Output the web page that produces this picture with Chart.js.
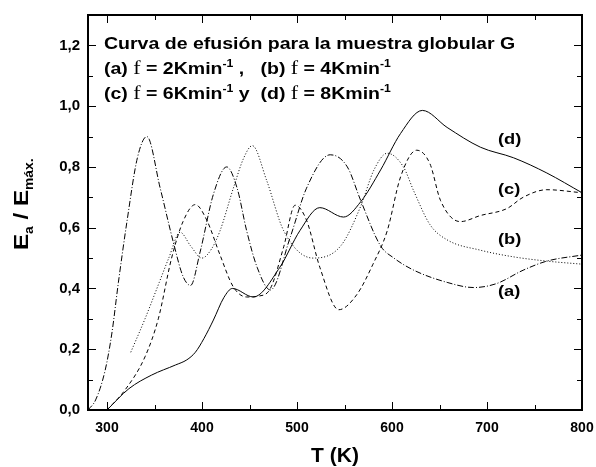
<!DOCTYPE html>
<html>
<head>
<meta charset="utf-8">
<script src="https://cdn.jsdelivr.net/npm/chart.js@4"></script>
<style>
  body { margin: 0; background: #fff; }
  #wrap { width: 596px; height: 467px; position: relative; }
</style>
</head>
<body>
<div id="wrap"><canvas id="myChart"></canvas></div>
<script>
// DATA
const tA = [280, 288, 298, 305, 312, 321, 332, 342, 356, 370, 380, 388, 398, 412, 426, 437, 447, 458, 472, 493, 510, 535, 553, 567, 588, 602, 623, 658, 686, 710, 738, 763, 800];
const yA = [0, 0.033, 0.13, 0.25, 0.42, 0.62, 0.83, 0.90, 0.73, 0.55, 0.44, 0.41, 0.52, 0.71, 0.80, 0.73, 0.59, 0.47, 0.395, 0.57, 0.73, 0.84, 0.80, 0.69, 0.54, 0.50, 0.46, 0.42, 0.403, 0.416, 0.46, 0.49, 0.51];

const tB = [325, 340, 355, 365, 377, 388, 400, 410, 419, 433, 444, 453, 468, 486, 517, 546, 567, 581, 595, 612, 623, 640, 658, 693, 728, 763, 800];
const yB = [0.19, 0.30, 0.42, 0.50, 0.585, 0.54, 0.50, 0.53, 0.59, 0.73, 0.83, 0.87, 0.756, 0.59, 0.50, 0.54, 0.67, 0.79, 0.845, 0.80, 0.72, 0.61, 0.56, 0.526, 0.504, 0.49, 0.48];

const tC = [300, 319, 340, 354, 368, 380, 393, 405, 419, 433, 447, 460, 472, 486, 498, 510, 524, 544, 563, 580, 595, 609, 626, 640, 651, 672, 693, 721, 738, 763, 800];
const yC = [0, 0.066, 0.175, 0.30, 0.50, 0.62, 0.676, 0.625, 0.51, 0.405, 0.372, 0.375, 0.40, 0.537, 0.674, 0.625, 0.47, 0.33, 0.38, 0.48, 0.59, 0.767, 0.855, 0.81, 0.69, 0.62, 0.64, 0.663, 0.70, 0.725, 0.715];

const tD = [300, 323, 347, 372, 384, 393, 402, 412, 423, 432, 454, 482, 503, 524, 549, 567, 588, 609, 632, 658, 693, 728, 763, 800];
const yD = [0, 0.07, 0.115, 0.148, 0.165, 0.19, 0.235, 0.296, 0.37, 0.40, 0.372, 0.47, 0.59, 0.666, 0.635, 0.685, 0.79, 0.91, 0.986, 0.93, 0.865, 0.83, 0.78, 0.715];

const xTicks = [300, 350, 400, 450, 500, 550, 600, 650, 700, 750, 800];
const yTicks = [0, 0.1, 0.2, 0.3, 0.4, 0.5, 0.6, 0.7, 0.8, 0.9, 1.0, 1.1, 1.2];

const curveLabels = ['(a)', '(b)', '(c)', '(d)'];
const curveLabelY = [0.39, 0.56, 0.725, 0.89];

const FONT = 'Arial, "Liberation Sans", sans-serif';
const STRETCH = 1.22; // the original text is a bit wider than plain Arial

// HELPERS
const pts = function (t, y) {
    return t.map((v, i) => ({x: v, y: y[i]}));
};

const series = function (t, y, dash) {
    return {
        data: pts(t, y),
        borderColor: '#000',
        borderWidth: 1,
        borderDash: dash,
        pointRadius: 0,
        fill: false,
        cubicInterpolationMode: 'monotone'
    };
};

// draws a row of text pieces: [text, font, dy], stretched sideways by sx
function drawRuns(ctx, x, y, runs, sx) {
    ctx.save();
    ctx.translate(x, y);
    ctx.scale(sx, 1);
    let cx = 0;
    runs.forEach(function (r) {
        ctx.font = r[1];
        ctx.fillText(r[0], cx, r[2] || 0);
        cx += ctx.measureText(r[0]).width;
    });
    ctx.restore();
}

// frame, inside ticks, annotations, axis titles
const decor = {
    id: 'decor',
    afterDraw(chart) {
        const ctx = chart.ctx;
        const a = chart.chartArea;
        const xs = chart.scales.x, ys = chart.scales.y;
        ctx.save();
        ctx.strokeStyle = '#000';
        ctx.fillStyle = '#000';

        ctx.lineWidth = 1;
        ctx.beginPath();
        xTicks.forEach(function (v) {
            const px = Math.round(xs.getPixelForValue(v)) + 0.5;
            const len = v % 100 === 0 ? 8 : 5;
            ctx.moveTo(px, a.bottom); ctx.lineTo(px, a.bottom - len);
            ctx.moveTo(px, a.top); ctx.lineTo(px, a.top + len);
        });
        yTicks.forEach(function (v) {
            const py = Math.round(ys.getPixelForValue(v)) + 0.5;
            const len = Math.round(v * 10) % 2 === 0 ? 8 : 5;
            ctx.moveTo(a.left, py); ctx.lineTo(a.left + len, py);
            ctx.moveTo(a.right, py); ctx.lineTo(a.right - len, py);
        });
        ctx.stroke();

        ctx.lineWidth = 2;
        ctx.strokeRect(a.left, a.top, a.right - a.left, a.bottom - a.top);

        // annotation block
        const B = 'bold 16px ' + FONT;
        const F = '18px "Times New Roman", "Liberation Serif", serif';
        const S = 'bold 10px ' + FONT;
        ctx.textBaseline = 'alphabetic';
        ctx.textAlign = 'left';
        drawRuns(ctx, 104, 49, [['Curva de efusión para la muestra globular G', B]], STRETCH);
        drawRuns(ctx, 104, 74, [['(a) ', B], ['f', F], [' = 2Kmin', B], ['-1', S, -7], [' ,   (b) ', B], ['f', F], [' = 4Kmin', B], ['-1', S, -7]], STRETCH);
        drawRuns(ctx, 104, 99, [['(c) ', B], ['f', F], [' = 6Kmin', B], ['-1', S, -7], [' y  (d) ', B], ['f', F], [' = 8Kmin', B], ['-1', S, -7]], STRETCH);

        // curve labels
        ctx.textBaseline = 'middle';
        curveLabels.forEach(function (s, i) {
            drawRuns(ctx, 498, ys.getPixelForValue(curveLabelY[i]), [[s, 'bold 15px ' + FONT]], STRETCH);
        });

        // x title
        ctx.font = 'bold 21px ' + FONT;
        ctx.textAlign = 'center';
        ctx.textBaseline = 'alphabetic';
        ctx.fillText('T (K)', (a.left + a.right) / 2, 462);

        // y title
        ctx.translate(28, 250);
        ctx.rotate(-Math.PI / 2);
        ctx.textAlign = 'left';
        const E = 'bold 21px ' + FONT;
        const sub = 'bold 12px ' + FONT;
        drawRuns(ctx, 0, 0, [['E', E], ['a', sub, 5], [' / E', E], ['máx.', sub, 5]], 1.15);
        ctx.restore();
    }
};

// DRAW GRAPH
const chart = new Chart(document.getElementById('myChart'), {
    type: 'line',
    data: {
        datasets: [
            series(tA, yA, [6, 2, 1, 2]),
            series(tB, yB, [1, 2]),
            series(tC, yC, [4, 3]),
            series(tD, yD, [])
        ]
    },
    options: {
        responsive: true,
        maintainAspectRatio: false,
        animation: false,
        events: [],
        layout: {padding: {left: 0, right: 14, top: 15, bottom: 0}},
        plugins: {legend: {display: false}, tooltip: {enabled: false}},
        scales: {
            x: {
                type: 'linear',
                min: 280,
                max: 800,
                afterBuildTicks: function (s) { s.ticks = xTicks.map(v => ({value: v})); },
                afterFit: function (s) { s.height = 57; s.paddingLeft = 0; s.paddingRight = 0; },
                grid: {display: false, drawTicks: false},
                border: {display: false},
                ticks: {
                    autoSkip: false,
                    maxRotation: 0,
                    padding: 10,
                    color: '#000',
                    font: {family: FONT, size: 14, weight: 'bold'},
                    callback: v => (v % 100 === 0 ? v : '')
                }
            },
            y: {
                min: 0,
                max: 1.3,
                afterBuildTicks: function (s) { s.ticks = yTicks.map(v => ({value: v})); },
                afterFit: function (s) { s.width = 88; s.paddingTop = 0; s.paddingBottom = 0; },
                grid: {display: false, drawTicks: false},
                border: {display: false},
                ticks: {
                    autoSkip: false,
                    padding: 8,
                    color: '#000',
                    font: {family: FONT, size: 15, weight: 'bold'},
                    callback: v => (Math.round(v * 10) % 2 === 0 ? v.toFixed(1).replace('.', ',') : '')
                }
            }
        }
    },
    plugins: [decor]
});
</script>
</body>
</html>
